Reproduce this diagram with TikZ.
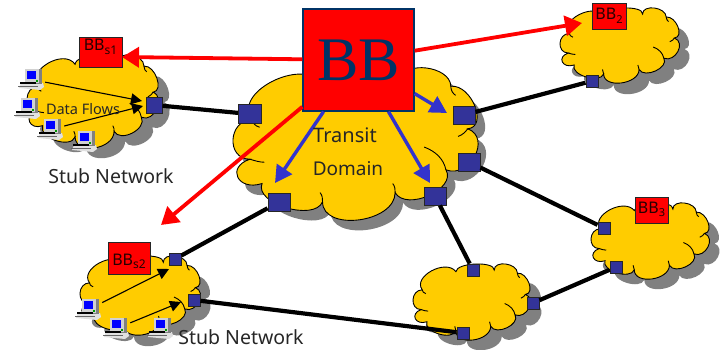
\documentclass[tikz,border=0pt]{standalone}
\usepackage{fontspec}
\setmainfont{Noto Sans}
\newfontfamily\serifbb{Liberation Serif}
\usetikzlibrary{arrows.meta,calc}
\definecolor{cloudy}{RGB}{255,204,0}
\definecolor{shadowg}{RGB}{128,128,128}
\definecolor{sqblue}{RGB}{51,51,153}
\definecolor{arrblue}{RGB}{51,51,204}
\definecolor{navybb}{RGB}{0,51,102}
\newcommand\bump[3]{.. controls ($0.333*#1+1.333*#2-0.667*#3$) and ($0.333*#3+1.333*#2-0.667*#1$) .. #3}
\newcommand\cloudpath{(37,10) \bump{(37,10)}{(54,0)}{(70,8)} \bump{(70,8)}{(80,0)}{(90,12)} \bump{(90,12)}{(100,25)}{(97,40)} \bump{(97,40)}{(100,58)}{(88,67)} \bump{(88,67)}{(81,84)}{(67,82)} \bump{(67,82)}{(52,100)}{(37,88)} \bump{(37,88)}{(22,92)}{(12,76)} \bump{(12,76)}{(2,72)}{(7,60)} \bump{(7,60)}{(0,47)}{(8,34)} \bump{(8,34)}{(16,9)}{(37,10)} -- cycle}
\newcommand\cloudat[6]{%
  \pgfmathsetmacro\cw{#3/100}\pgfmathsetmacro\ch{#4/100}%
  \begin{scope}[shift={(#1+#5,#2+#6)},x=\cw pt,y=-\ch pt]
    \fill[shadowg] \cloudpath;
  \end{scope}
  \begin{scope}[shift={(#1,#2)},x=\cw pt,y=-\ch pt]
    \filldraw[fill=cloudy,draw=black,line width=0.9pt] \cloudpath;
    \draw[line width=0.9pt] (88,67) .. controls (87,60) and (84,55) .. (79,52);
    \draw[line width=0.9pt] (97,40) .. controls (96,42) and (95,44) .. (93,45);
    \draw[line width=0.9pt] (90,12) .. controls (90,15) and (91,17) .. (92,18);
    \draw[line width=0.9pt] (8,34) .. controls (8,36) and (9,38) .. (11,39);
    \draw[line width=0.9pt] (7,60) .. controls (9,61) and (11,62) .. (13,62);
    \draw[line width=0.9pt] (67,82) .. controls (67,80) and (67,78) .. (66,76);
    \draw[line width=0.9pt] (37,88) .. controls (37,86) and (37,84) .. (36,82);
  \end{scope}}
\newcommand\bbtext[3]{\raisebox{#1}[0pt][0pt]{BB\raisebox{-3.5pt}{\fontsize{#3}{#3}\selectfont #2}}}
\newcommand\pcat[3]{%
  \node[pcbox] (#1) at (#2,#3) {};
  \begin{scope}[shift={(#2-13.5,#3-10.5)}]
    \fill[black!12] (3,14) -- (25,14) -- (26,18) -- (22,21) -- (1,19) -- cycle;
    \fill[black!50] (7,0) -- (24,0) -- (24,15) -- (7,15) -- cycle;
    \fill[black!18] (7,0) -- (21,0) -- (21,14) -- (7,14) -- cycle;
    \fill[blue] (9,2) rectangle (18,10);
    \fill[black] (2,13) rectangle (18,15);
    \fill[black!60] (0,17) -- (20,17) -- (20,18) -- (0,18) -- cycle;
    \fill[green!60!black] (18,11) rectangle (20,13);
  \end{scope}}
\tikzset{
  x=1pt,y=-1pt,
  link/.style={line width=4.2pt,draw=black,line cap=butt},
  sqbig/.style={draw=black!85,line width=0.9pt,fill=sqblue,inner sep=0pt,minimum width=22pt,minimum height=18pt},
  sqsmall/.style={draw=black!85,line width=0.9pt,fill=sqblue,inner sep=0pt,minimum width=12pt,minimum height=12pt},
  redarrow/.style={draw=red,line width=3.8pt,-{Triangle[length=17pt,width=20pt,fill=red]}},
  bluearrow/.style={draw=arrblue,line width=3.4pt,-{Triangle[length=17pt,width=18pt,fill=arrblue]}},
  flow/.style={draw=black,line width=1.1pt,-{Triangle[length=11pt,width=11pt,fill=black]}},
  bbsmall/.style={draw=black!85,line width=0.9pt,fill=red,inner sep=0pt,text=black!85!red,font=\fontsize{16}{16}\selectfont},
  lab/.style={inner sep=0pt,text=black!85},
  pcbox/.style={inner sep=0pt,minimum width=27pt,minimum height=21pt}
}
\begin{document}
\begin{tikzpicture}
\useasboundingbox (0,0) rectangle (722,350);
% clouds
\cloudat{233}{68}{242}{152}{8}{10}
\cloudat{27}{55}{130}{93}{11}{10}
\cloudat{80}{256}{119}{79}{10}{11}
\cloudat{560}{8}{118}{75}{10}{11}
\cloudat{591}{203}{117}{76}{10}{10}
\cloudat{413}{264}{116}{76}{11}{10}
% ports
\node[sqsmall,minimum width=16pt,minimum height=16pt] (p1) at (154,105) {};
\node[sqbig,minimum width=23pt,minimum height=19pt] (t1) at (250,114) {};
\node[sqbig] (t2) at (279,202) {};
\node[sqbig] (t3) at (435,196) {};
\node[sqbig] (t4) at (464,115) {};
\node[sqbig] (t5) at (469,162) {};
\node[sqsmall] (b2) at (592,81) {};
\node[sqsmall] (b3a) at (604,228) {};
\node[sqsmall] (b3b) at (616,267) {};
\node[sqsmall] (c1) at (473,270) {};
\node[sqsmall] (c2) at (533,303) {};
\node[sqsmall] (c3) at (463,333) {};
\node[sqsmall] (s2a) at (175,259) {};
\node[sqsmall] (s2b) at (194,300) {};
% links
\draw[link] (p1) -- (t1);
\draw[link] (t4) -- (b2);
\draw[link] (t5) -- (b3a);
\draw[link] (t3) -- (c1);
\draw[link] (c2) -- (b3b);
\draw[link] (t2) -- (s2a);
\draw[link] (s2b) -- (c3);
% BB boxes
\node[bbsmall,minimum width=43pt,minimum height=30pt] (bbs1) at (100.5,52) {\bbtext{1pt}{s1}{12}};
\node[bbsmall,minimum width=42pt,minimum height=32pt] (bbs2) at (129,258) {\bbtext{-7pt}{s2}{12}};
\node[bbsmall,minimum width=34pt,minimum height=26pt] (bb2) at (609,16) {\bbtext{-4pt}{2}{11}};
\node[bbsmall,minimum width=33pt,minimum height=26pt] (bb3) at (651.5,210) {\bbtext{-3pt}{3}{11}};
\node[draw=navybb,line width=1.2pt,fill=red,inner sep=0pt,minimum width=111pt,minimum height=102pt,text=navybb,font=\serifbb\fontsize{62}{62}\selectfont] (bb) at (358.5,60) {BB};
% free ends
\coordinate (tipa) at (122,57);
\coordinate (tipb) at (161,225);
\coordinate (tipc) at (582,23);
\coordinate (tipd) at (275,183);
\coordinate (tipe) at (430,183);
\coordinate (tipf) at (447,113);
\coordinate (fa) at (142,101);
\coordinate (fb) at (143,106);
\coordinate (fc) at (169,269);
\coordinate (fd) at (181,302);
% arrows from BB
\draw[redarrow] (bb) -- (tipa);
\draw[redarrow] (bb) -- (tipb);
\draw[redarrow] (bb) -- (tipc);
\draw[bluearrow] (bb) -- (tipd);
\draw[bluearrow] (bb) -- (tipe);
\draw[bluearrow] (bb) -- (tipf);
% computers
\pcat{h1}{31.5}{79.5}
\pcat{h2}{27.5}{108.5}
\pcat{h3}{50.5}{129.5}
\pcat{h4}{84.5}{141.5}
\pcat{h5}{88.5}{309.5}
\pcat{h6}{116.5}{328.5}
\pcat{h7}{160.5}{328.5}
\draw[flow] (h1) -- (fa);
\draw[flow] (h3) -- (fb);
\draw[flow] (h5) -- (fc);
\draw[flow] (h6) -- (fd);
% labels
\node[lab,font=\fontsize{14.5}{15}\selectfont] (df) at (83,109) {Data Flows};
\node[lab,font=\fontsize{19.5}{20}\selectfont] (sn1) at (111,176) {Stub Network};
\node[lab,font=\fontsize{19.5}{20}\selectfont] (sn2) at (241,337) {Stub Network};
\node[lab,font=\fontsize{20}{20}\selectfont] (tr) at (345,135) {Transit};
\node[lab,font=\fontsize{19}{19}\selectfont] (dm) at (348,169) {Domain};
\end{tikzpicture}
\end{document}
